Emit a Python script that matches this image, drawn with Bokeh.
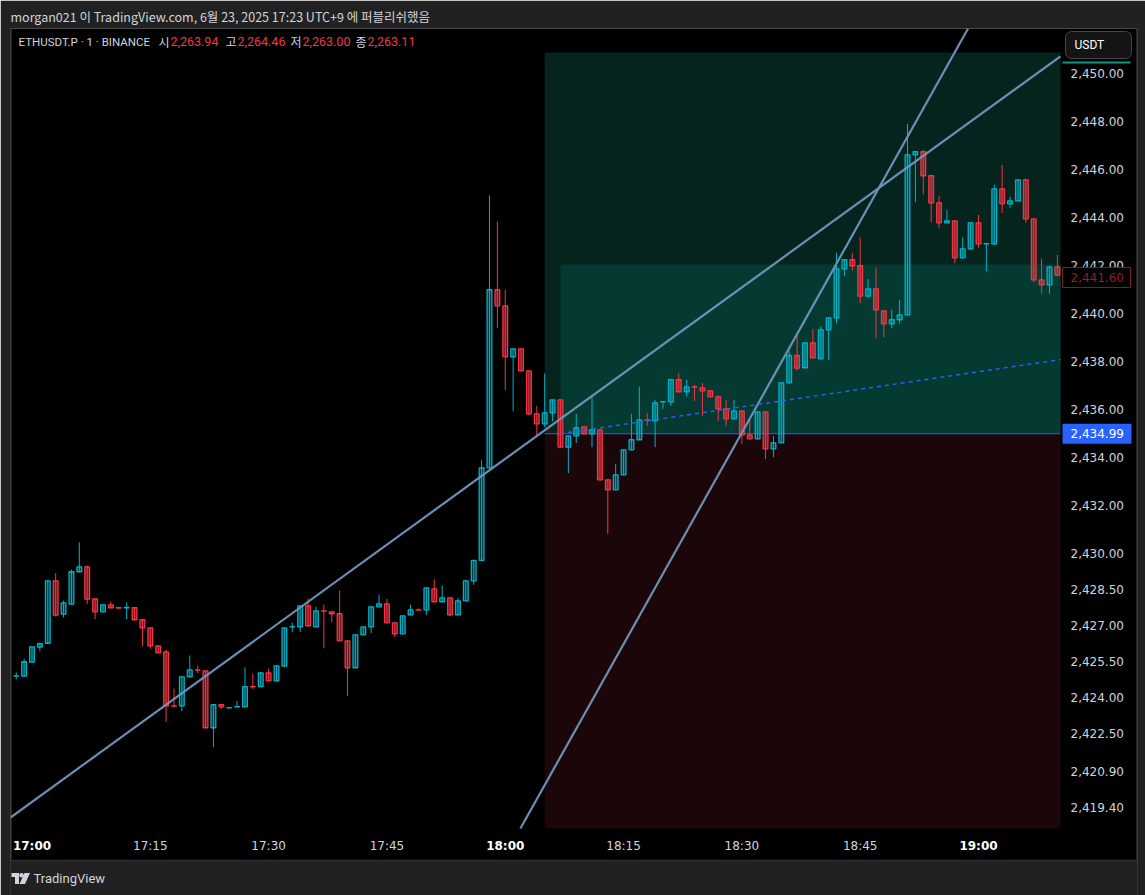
from bokeh.plotting import figure
from bokeh.models import Range1d, FixedTicker, NumeralTickFormatter, Label, BoxAnnotation, ColumnDataSource
from bokeh.embed import file_html
from bokeh.resources import INLINE

# ---------------- data (1-minute ETHUSDT.P candles, minute 0 = 17:00) ----------------
minutes = list(range(-2, 131))
opens = [
    2424.89, 2424.89, 2425.47, 2426.10, 2426.26, 2428.86, 2427.47, 2427.89, 2429.24, 2429.44,
    2428.11, 2427.57, 2427.86, 2427.74, 2427.74, 2427.74, 2427.24, 2426.90, 2426.15, 2425.90,
    2423.65, 2423.65, 2424.86, 2425.15, 2425.11, 2422.74, 2423.70, 2423.57, 2423.61, 2423.61,
    2424.45, 2424.45, 2425.03, 2424.69, 2425.31, 2426.94, 2426.94, 2427.82, 2426.94, 2427.61,
    2427.57, 2427.49, 2426.36, 2425.24, 2426.61, 2426.94, 2427.78, 2427.90, 2427.11, 2426.65,
    2427.44, 2427.65, 2427.65, 2428.53, 2427.99, 2428.15, 2427.44, 2428.03, 2428.86, 2429.71,
    2433.57, 2440.99, 2440.32, 2438.19, 2438.53, 2437.61, 2435.82, 2435.40, 2435.86, 2436.40,
    2434.43, 2434.90, 2435.28, 2434.99, 2435.15, 2433.07, 2432.65, 2433.28, 2434.32, 2434.74,
    2435.57, 2435.53, 2436.32, 2436.32, 2437.24, 2436.74, 2436.94, 2436.90, 2436.78, 2436.53,
    2436.03, 2435.61, 2435.94, 2434.94, 2434.78, 2435.90, 2434.36, 2434.61, 2437.11, 2438.25,
    2437.74, 2438.78, 2438.11, 2439.32, 2439.82, 2441.86, 2442.24, 2441.99, 2440.72, 2441.03,
    2440.11, 2439.57, 2439.74, 2439.94, 2446.61, 2446.74, 2445.74, 2444.61, 2443.78, 2443.86,
    2442.32, 2442.69, 2443.78, 2442.90, 2442.90, 2445.19, 2444.57, 2444.69, 2445.57, 2443.94,
    2441.40, 2441.19, 2441.94,
]
highs = [
    2425.05, 2425.62, 2426.11, 2426.29, 2428.86, 2429.18, 2428.04, 2429.33, 2430.46, 2429.50,
    2428.11, 2427.86, 2428.00, 2427.74, 2427.96, 2427.74, 2427.24, 2426.90, 2426.15, 2426.00,
    2424.37, 2424.86, 2425.75, 2425.33, 2425.11, 2423.70, 2423.70, 2423.61, 2423.86, 2425.25,
    2425.00, 2425.03, 2425.21, 2425.32, 2426.90, 2427.12, 2427.82, 2428.12, 2427.78, 2427.87,
    2427.57, 2428.46, 2426.36, 2426.61, 2426.94, 2427.78, 2428.29, 2428.11, 2427.11, 2427.40,
    2427.87, 2427.71, 2428.57, 2428.92, 2428.67, 2428.15, 2428.15, 2428.86, 2429.71, 2433.90,
    2444.92, 2443.83, 2440.99, 2438.53, 2438.53, 2437.61, 2436.15, 2437.50, 2436.40, 2436.40,
    2434.90, 2435.82, 2435.28, 2436.53, 2435.15, 2433.07, 2433.74, 2434.32, 2435.82, 2436.95,
    2435.86, 2436.40, 2436.36, 2437.24, 2437.53, 2437.24, 2437.03, 2437.11, 2436.78, 2436.61,
    2436.40, 2436.40, 2435.94, 2435.57, 2435.90, 2435.90, 2434.90, 2437.11, 2438.46, 2439.22,
    2438.78, 2439.36, 2439.46, 2439.82, 2442.53, 2442.24, 2442.53, 2443.17, 2441.44, 2441.92,
    2440.11, 2440.15, 2440.57, 2447.90, 2446.74, 2446.82, 2445.74, 2444.90, 2444.33, 2443.86,
    2443.17, 2443.78, 2444.11, 2442.91, 2445.36, 2446.19, 2444.86, 2445.57, 2445.61, 2443.94,
    2442.28, 2441.94, 2442.44,
]
lows = [
    2424.76, 2424.89, 2425.47, 2425.93, 2426.26, 2427.37, 2427.33, 2427.89, 2429.24, 2427.89,
    2427.26, 2427.57, 2427.74, 2427.73, 2427.26, 2427.24, 2426.14, 2426.03, 2425.86, 2422.97,
    2423.64, 2423.43, 2424.86, 2425.01, 2422.74, 2421.93, 2423.53, 2423.57, 2423.61, 2423.61,
    2424.35, 2424.45, 2424.69, 2424.69, 2425.31, 2426.72, 2426.72, 2426.99, 2426.94, 2426.05,
    2427.14, 2426.36, 2424.06, 2425.24, 2426.61, 2426.68, 2427.78, 2427.11, 2426.51, 2426.65,
    2427.44, 2427.64, 2427.44, 2427.99, 2427.99, 2427.40, 2427.44, 2428.03, 2428.69, 2429.71,
    2433.57, 2439.39, 2436.81, 2435.93, 2437.61, 2435.75, 2434.90, 2435.27, 2435.51, 2434.43,
    2433.35, 2434.60, 2434.99, 2434.43, 2433.07, 2430.82, 2432.65, 2433.28, 2434.32, 2434.74,
    2435.32, 2434.43, 2436.03, 2436.15, 2436.74, 2436.53, 2436.36, 2435.74, 2436.53, 2435.53,
    2435.32, 2435.61, 2434.57, 2434.78, 2434.78, 2433.94, 2434.01, 2434.61, 2437.11, 2437.62,
    2437.74, 2438.15, 2438.11, 2438.07, 2439.60, 2441.56, 2441.79, 2440.43, 2440.68, 2438.97,
    2439.01, 2439.39, 2439.57, 2439.94, 2444.64, 2444.97, 2443.81, 2443.57, 2443.78, 2442.10,
    2442.32, 2442.69, 2442.74, 2441.76, 2442.85, 2444.19, 2444.40, 2444.69, 2443.78, 2441.31,
    2440.82, 2440.82, 2441.55,
]
closes = [
    2424.90, 2425.49, 2426.11, 2426.24, 2428.86, 2427.43, 2427.94, 2429.24, 2429.44, 2428.10,
    2427.57, 2427.86, 2427.74, 2427.73, 2427.75, 2427.24, 2426.90, 2426.15, 2425.86, 2423.65,
    2423.64, 2424.86, 2425.15, 2425.14, 2422.74, 2423.70, 2423.61, 2423.58, 2423.62, 2424.45,
    2424.44, 2425.03, 2424.69, 2425.32, 2426.90, 2426.95, 2427.82, 2426.99, 2427.61, 2427.60,
    2427.49, 2426.36, 2425.24, 2426.61, 2426.94, 2427.78, 2427.90, 2427.11, 2426.65, 2427.40,
    2427.65, 2427.64, 2428.57, 2427.99, 2428.15, 2427.44, 2428.03, 2428.86, 2429.71, 2433.57,
    2440.99, 2440.32, 2438.19, 2438.53, 2437.61, 2435.82, 2435.40, 2435.86, 2436.40, 2434.43,
    2434.90, 2435.24, 2434.99, 2435.15, 2433.07, 2432.65, 2433.28, 2434.32, 2434.74, 2435.57,
    2435.56, 2436.28, 2436.33, 2437.24, 2436.74, 2436.94, 2436.93, 2436.78, 2436.53, 2436.03,
    2435.61, 2435.94, 2434.94, 2434.78, 2435.90, 2434.36, 2434.61, 2437.11, 2438.25, 2437.72,
    2438.78, 2438.15, 2439.32, 2439.82, 2441.86, 2442.24, 2441.99, 2440.72, 2441.03, 2440.15,
    2439.57, 2439.74, 2439.94, 2446.61, 2446.74, 2445.74, 2444.61, 2443.78, 2443.86, 2442.32,
    2442.69, 2443.78, 2442.90, 2442.91, 2445.19, 2444.57, 2444.69, 2445.57, 2443.94, 2441.40,
    2441.19, 2441.94, 2441.60,
]

# axis ticks
time_ticks = [0, 15, 30, 45, 60, 75, 90, 105, 120]
time_labels = ["17:00", "17:15", "17:30", "17:45", "18:00", "18:15", "18:30", "18:45", "19:00"]
price_ticks = [2450, 2448, 2446, 2444, 2442, 2440, 2438, 2436, 2434, 2432, 2430,
               2428.5, 2427, 2425.5, 2424, 2422.5, 2420.9, 2419.4]

# long-position tool drawings
pos_start = [65, 67]            # minutes where the two position boxes begin
entry_price = 2434.99
target_prices = [2450.88, 2442.04]
stop_price = 2418.54
last_price = 2441.60

# trend lines (anchor points)
tl1_x = [-2.73, 130.39]
tl1_y = [2419.00, 2450.71]
tl2_x = [61.92, 118.68]
tl2_y = [2418.54, 2451.875]
dash_x = [67, 130.39]
dash_y = [2434.99, 2438.08]

# header values
ohlc_names = ["시", "고", "저", "종"]
ohlc_vals = ["2,263.94", "2,264.46", "2,263.00", "2,263.11"]

# ---------------- helpers: page pixel -> data position (only for texts / chrome) ----------------
PX0, PXM = 31.5, 7.8875          # x pixel of minute 0, pixels per minute
PY0, PYU = 73.0, 24.0            # y pixel of 2450, pixels per unit


def X(px):
    return (px - PX0) / PXM


def Y(py):
    return 2450 - (py - PY0) / PYU


UP, DOWN = "#00b2c8", "#f23645"
TXT = "#d1d4dc"
GRAY = "#212121"

p = figure(width=1145, height=895,
           x_range=Range1d(X(10), X(1137)), y_range=Range1d(Y(895), Y(28)),
           y_axis_location="right", output_backend="svg", toolbar_location=None,
           min_border_left=10, min_border_top=28, min_border_right=8, min_border_bottom=0,
           background_fill_color="black", border_fill_color=GRAY, outline_line_color=None)
p.xgrid.visible = False
p.ygrid.visible = False

# header (title)
p.title.text = "morgan021 이 TradingView.com, 6월 23, 2025 17:23 UTC+9 에 퍼블리쉬했음"
p.title.align = "left"
p.title.text_font = "Noto Sans CJK KR"
p.title.text_font_size = "12.5px"
p.title.text_font_style = "normal"
p.title.text_color = TXT
p.title.standoff = 6

# footer strip with TradingView mark
p.quad(left=[X(0)], right=[X(1145)], bottom=[Y(900)], top=[Y(860)], fill_color=GRAY, line_color=None)
p.segment(x0=[X(0)], y0=[Y(860)], x1=[X(1137)], y1=[Y(860)], line_color="#2e2e2e", line_width=1.5)
p.segment(x0=[X(10.5)], y0=[Y(860)], x1=[X(10.5)], y1=[Y(28)], line_color="#2e2e2e", line_width=1.5)
p.segment(x0=[X(1136.5)], y0=[Y(860)], x1=[X(1136.5)], y1=[Y(28)], line_color="#2e2e2e", line_width=1.5)
p.quad(left=[X(11)], right=[X(18.5)], bottom=[Y(876.5)], top=[Y(872.5)], fill_color=TXT, line_color=None)
p.quad(left=[X(14.5)], right=[X(18.5)], bottom=[Y(883.5)], top=[Y(872.5)], fill_color=TXT, line_color=None)
p.scatter(x=[X(21)], y=[Y(874.7)], size=4.4, marker="circle", fill_color=TXT, line_color=None)
p.patch(x=[X(24), X(29.5), X(24.5), X(19)], y=[Y(872.5), Y(872.5), Y(883.5), Y(883.5)],
        fill_color=TXT, line_color=None)
p.add_layout(Label(x=X(33), y=Y(878), text="TradingView", text_align="left", text_baseline="middle",
                   text_font="Roboto", text_font_size="13px", text_color=TXT))

# position tool areas (end at the price-scale edge)
right_edge = X(1060)
p.quad(left=[pos_start[0]], right=[right_edge], bottom=[entry_price], top=[target_prices[0]],
       fill_color="#05241e", line_color=None)
p.quad(left=[pos_start[1]], right=[right_edge], bottom=[entry_price], top=[target_prices[1]],
       fill_color="#053a33", line_color=None)
p.quad(left=[pos_start[0]], right=[right_edge], bottom=[stop_price], top=[entry_price],
       fill_color="#1b0609", line_color=None)
p.segment(x0=[pos_start[0]], y0=[entry_price], x1=[right_edge], y1=[entry_price],
          line_color="#2962ff", line_width=1.2)

# candles
col = [UP if c >= o else DOWN for o, c in zip(opens, closes)]
falpha = [0.32 if c >= o else 0.45 for o, c in zip(opens, closes)]
src = ColumnDataSource(dict(t=minutes, o=opens, h=highs, l=lows, c=closes,
                            top=[max(o, c) for o, c in zip(opens, closes)],
                            bot=[min(o, c) for o, c in zip(opens, closes)],
                            col=col, fa=falpha))
p.segment(x0="t", y0="l", x1="t", y1="h", line_color="col", line_width=1, source=src)
p.vbar(x="t", top="top", bottom="bot", width=0.6, fill_color="col", fill_alpha="fa",
       line_color="col", line_width=1.3, source=src)

# drawings
p.line(tl1_x, tl1_y, line_color="#7296bd", line_width=2.2, line_alpha=0.95)
p.line(tl2_x, tl2_y, line_color="#7296bd", line_width=2.2, line_alpha=0.95)
p.line(dash_x, dash_y, line_color="#2962ff", line_width=1.4, line_dash="4 4")
p.segment(x0=[X(1062)], y0=[Y(62)], x1=[X(1130)], y1=[Y(62)], line_color="#089981", line_width=2)

# axes (labels drawn inward, onto the black price / time scale strips)
p.yaxis.ticker = FixedTicker(ticks=price_ticks)
p.yaxis.formatter = NumeralTickFormatter(format="0,0.00")
p.xaxis.ticker = FixedTicker(ticks=time_ticks)
p.xaxis.major_label_overrides = {t: ("" if lab.endswith(":00") else lab)
                                 for t, lab in zip(time_ticks, time_labels)}
for ax in (p.xaxis[0], p.yaxis[0]):
    ax.axis_line_color = None
    ax.major_tick_line_color = None
    ax.minor_tick_line_color = None
    ax.major_tick_out = 0
    ax.major_tick_in = 0
    ax.minor_tick_out = 0
    ax.minor_tick_in = 0
    ax.major_label_text_font = "DejaVu Sans"
    ax.major_label_text_font_size = "12px"
    ax.major_label_text_color = TXT
p.yaxis.major_label_standoff = -67
p.xaxis.major_label_standoff = -57

for t, lab in zip(time_ticks, time_labels):
    if lab.endswith(":00"):
        p.add_layout(Label(x=t, y=Y(845), text=lab, text_align="center", text_baseline="middle",
                           text_font="DejaVu Sans", text_font_size="12px", text_font_style="bold",
                           text_color="#ffffff"))

# price tags on the price scale (annotations, so they sit above the scale labels)
p.add_layout(BoxAnnotation(left=X(1062), right=X(1130), bottom=Y(287), top=Y(267),
                           fill_color="black", fill_alpha=1.0, line_color="#7d1c25", line_width=1,
                           line_alpha=1.0))
p.add_layout(Label(x=X(1070), y=Y(277), text="2,441.60", text_align="left", text_baseline="middle",
                   text_font="DejaVu Sans", text_font_size="12px", text_color="#8f1f2b"))
p.add_layout(BoxAnnotation(left=X(1062), right=X(1131), bottom=entry_price - 10 / PYU,
                           top=entry_price + 10 / PYU, fill_color="#2962ff", fill_alpha=1.0,
                           line_color=None))
p.add_layout(Label(x=X(1070), y=entry_price, text="2,434.99", text_align="left", text_baseline="middle",
                   text_font="DejaVu Sans", text_font_size="12px", text_color="#ffffff"))
p.quad(left=[X(1065)], right=[X(1131)], bottom=[Y(58)], top=[Y(31)],
       fill_color="#141414", line_color="#434651", line_width=1, border_radius=6)
p.add_layout(Label(x=X(1074), y=Y(44.5), text="USDT", text_align="left", text_baseline="middle",
                   text_font="Roboto", text_font_size="12px", text_color="#ffffff"))

# symbol / OHLC legend
p.add_layout(Label(x=X(18), y=Y(41), text="ETHUSDT.P · 1 · BINANCE", text_align="left",
                   text_baseline="middle", text_font="Roboto", text_font_size="11.5px", text_color=TXT))
name_px = [158, 225, 290, 355]
val_px = [170, 237, 302, 367]
for nm, vl, nx, vx in zip(ohlc_names, ohlc_vals, name_px, val_px):
    p.add_layout(Label(x=X(nx), y=Y(41), text=nm, text_align="left", text_baseline="middle",
                       text_font="Noto Sans CJK KR", text_font_size="12px", text_color=TXT))
    p.add_layout(Label(x=X(vx), y=Y(41), text=vl, text_align="left", text_baseline="middle",
                       text_font="Roboto", text_font_size="12.5px", text_color="#f23645"))

html = file_html(p, INLINE)
open("out.html", "w").write(html)
